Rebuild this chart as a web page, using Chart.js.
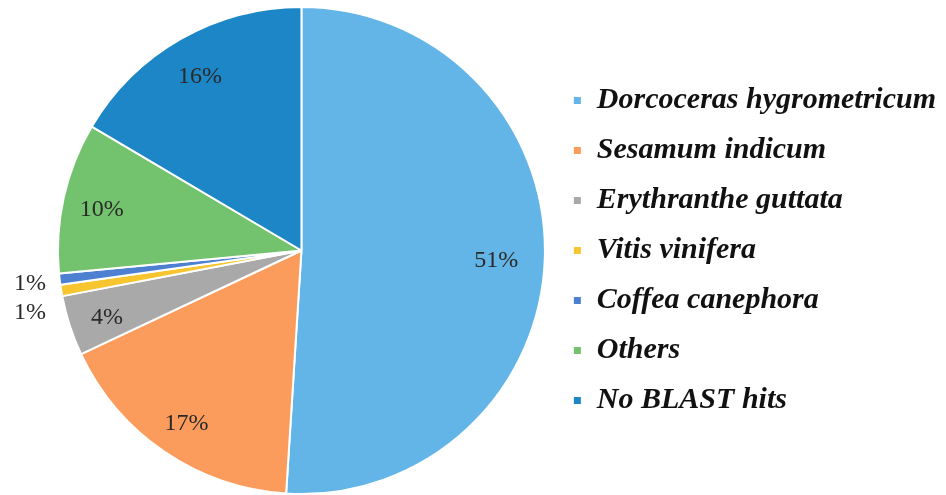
<!DOCTYPE html>
<html>
<head>
<meta charset="utf-8">
<script src="https://cdn.jsdelivr.net/npm/chart.js@4.4.1/dist/chart.umd.min.js"></script>
<style>
    html, body { margin: 0; padding: 0; background: #ffffff; }
    #wrap { position: relative; width: 946px; height: 495px; }
</style>
</head>
<body>
<div id="wrap"><canvas id="pieChart"></canvas></div>
<script>
// Species share of BLAST top hits
const categories = [
    'Dorcoceras hygrometricum',
    'Sesamum indicum',
    'Erythranthe guttata',
    'Vitis vinifera',
    'Coffea canephora',
    'Others',
    'No BLAST hits'
];
const shares = [51, 17, 4, 0.75, 0.75, 10, 16.5];
const shareLabels = ['51%', '17%', '4%', '1%', '1%', '10%', '16%'];
const sliceColors = ['#62b5e6', '#fc9c5c', '#a9a9a9', '#f6c52f', '#4d80d0', '#72c26e', '#1d86c6'];

// Percent labels: inside the slice, or to the left of the pie for thin slices
const pctLabels = {
    id: 'pctLabels',
    afterDatasetsDraw(chart) {
        const ctx = chart.ctx;
        const arcs = chart.getDatasetMeta(0).data;
        const total = shares.reduce((a, b) => a + b, 0);
        ctx.save();
        ctx.font = '24px "Liberation Serif", "Times New Roman", serif';
        ctx.fillStyle = '#2a2a2a';
        ctx.textBaseline = 'middle';
        const outside = [];
        arcs.forEach((arc, i) => {
            const mid = (arc.startAngle + arc.endAngle) / 2;
            if (shares[i] / total < 0.02) {
                outside.push({
                    text: shareLabels[i],
                    x: arc.x - arc.outerRadius - 12,
                    y: arc.y + Math.sin(mid) * arc.outerRadius + 5
                });
                return;
            }
            // the big slice label sits a bit further in, like the original
            const r = arc.outerRadius * (shares[i] / total > 0.4 ? 0.8 : 0.84);
            ctx.textAlign = 'center';
            ctx.fillText(shareLabels[i], arc.x + Math.cos(mid) * r, arc.y + Math.sin(mid) * r + 4);
        });
        outside.sort((a, b) => a.y - b.y);
        let lastY = -Infinity;
        outside.forEach(l => {
            if (l.y < lastY + 29) l.y = lastY + 29;
            lastY = l.y;
            ctx.textAlign = 'right';
            ctx.fillText(l.text, l.x, l.y);
        });
        ctx.restore();
    }
};

const ctx = document.getElementById('pieChart').getContext('2d');
new Chart(ctx, {
    type: 'pie',
    data: {
        labels: categories,
        datasets: [{
            data: shares,
            backgroundColor: sliceColors,
            borderColor: '#ffffff',
            borderWidth: 2
        }]
    },
    options: {
        responsive: true,
        maintainAspectRatio: false,
        animation: false,
        layout: {
            padding: { top: 6, bottom: 0, left: 50, right: 0 }
        },
        plugins: {
            tooltip: { enabled: false },
            legend: {
                position: 'right',
                labels: {
                    boxWidth: 9,
                    boxHeight: 9,
                    padding: 20,
                    color: '#111111',
                    font: {
                        family: '"Liberation Serif", "Times New Roman", serif',
                        size: 30,
                        style: 'italic',
                        weight: 'bold'
                    }
                }
            }
        }
    },
    plugins: [pctLabels]
});
</script>
</body>
</html>
